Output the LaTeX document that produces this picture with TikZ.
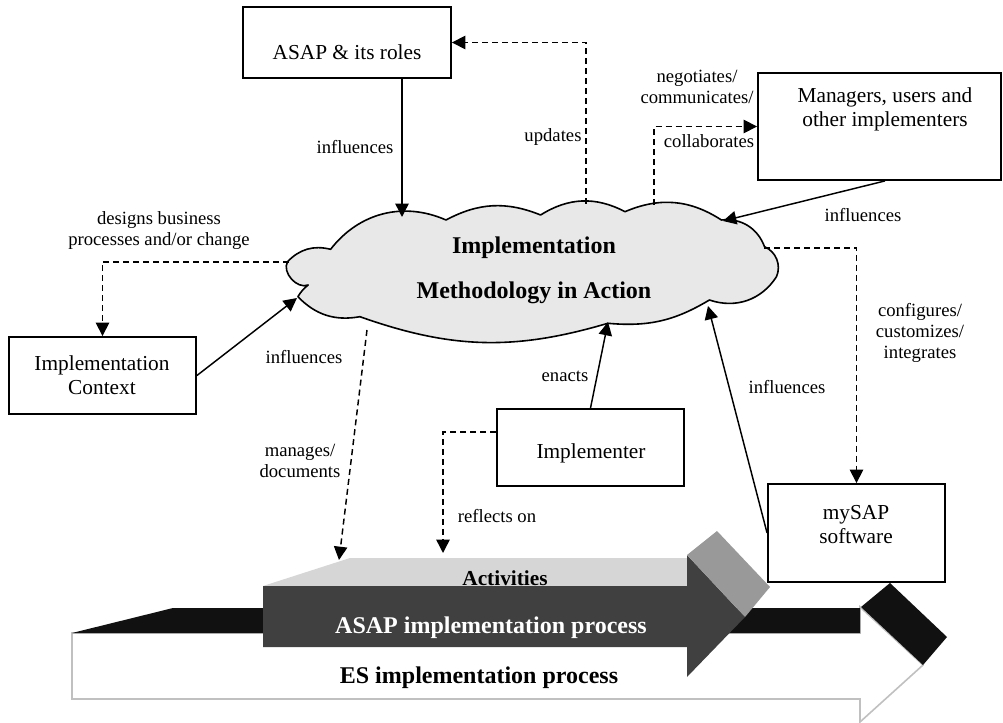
\documentclass[tikz,border=0pt]{standalone}
\usepackage{fontspec}
\setmainfont{Liberation Serif}
\usetikzlibrary{arrows.meta}
\definecolor{cloudfill}{HTML}{E8E8E8}
\definecolor{topface}{HTML}{D6D6D6}
\definecolor{sideface}{HTML}{999999}
\definecolor{darkarrow}{HTML}{404040}
\definecolor{blackface}{HTML}{111111}
\definecolor{esline}{HTML}{C0C0C0}
\begin{document}
\begin{tikzpicture}[x=0.75pt,y=-0.75pt,
  box/.style={draw=black,line width=1.4pt,fill=white,inner sep=0pt},
  boxtext/.style={font=\fontsize{16}{18}\selectfont,align=center,inner sep=0pt},
  lbl/.style={font=\fontsize{14}{15.75}\selectfont,align=center,inner sep=0pt},
  conn/.style={line width=1.1pt,-{Triangle[length=10pt,width=10pt]}},
  dconn/.style={conn,dash pattern=on 4.5pt off 3pt},
  boldbig/.style={font=\fontsize{18}{33.75}\selectfont\bfseries,align=center,inner sep=0pt},
  cloudline/.style={draw=black,line width=1.2pt,fill=cloudfill,line join=round}]
\useasboundingbox (0,0) rectangle (1003,723);

% ---------- bottom process arrows ----------
\draw[esline,line width=1.2pt,fill=white]
  (72,633) -- (860,633) -- (860,607) -- (923,665) -- (860,722) -- (860,699) -- (72,699) -- cycle;
\fill[blackface] (72,633) -- (173,608) -- (860,608) -- (860,633) -- cycle;
\fill[blackface] (861,607) -- (890,583) -- (947,637) -- (923,665) -- cycle;
\fill[topface] (263,586) -- (350,558) -- (687,558) -- (687,586) -- cycle;
\fill[darkarrow] (263,586) -- (687,586) -- (687,555) -- (745,617) -- (687,677) -- (687,647) -- (263,647) -- cycle;
\fill[sideface] (687,555) -- (717,531) -- (770,587) -- (745,617) -- cycle;
\node[font=\fontsize{16}{18}\selectfont\bfseries,inner sep=0pt] (activities) at (505,578) {Activities};
\node[boldbig,text=white] (asapproc) at (491,628) {ASAP implementation process};
\node[boldbig] (esproc) at (479,678) {ES implementation process};
\coordinate (aM) at (339,560);
\coordinate (aR) at (443,553);

% ---------- cloud ----------
\coordinate (D0) at (287.5,261.7);
\coordinate (D1) at (330.6,249.3);
\coordinate (D2) at (446,220);
\coordinate (D3) at (540.6,215);
\coordinate (D4) at (625,211.7);
\coordinate (D5) at (721.4,220);
\coordinate (D6) at (764.5,246.7);
\coordinate (D7) at (776.5,276.7);
\coordinate (D8) at (709.4,300);
\coordinate (D9) at (607.8,323.3);
\coordinate (D10) at (359.9,316.7);
\coordinate (D11) at (297.9,296.7);
\coordinate (D12) at (308.2,285);
\draw[cloudline] (D0) to[bend left=30] (D1) to[bend left=38] (D2) to[bend left=25] (D3)
  to[bend left=30] (D4) to[bend left=28] (D5) to[bend left=38] (D6) to[bend left=45] (D7)
  to[bend left=38] (D8) to[bend left=18] (D9) to[bend left=18] (D10) to[bend left=28] (D11)
  to[bend left=10] (D12) to[bend left=70] (D0) -- cycle;
\node[boldbig] (cloud) at (534,270.5) {Implementation\\Methodology in Action};

% ---------- boxes ----------
\node[box,minimum width=156pt,minimum height=53.25pt] (asap) at (347,42.5) {};
\node[boxtext] (asapt) at (347,52) {ASAP \& its roles};
\node[box,minimum width=182.25pt,minimum height=80.25pt] (mgr) at (879.5,126.5) {};
\node[boxtext] (mgrt) at (885,109.5) {Managers, users and\\other implementers};
\node[box,minimum width=140.25pt,minimum height=57.75pt] (ctx) at (102.5,375.5) {};
\node[boxtext] (ctxt) at (102,375) {Implementation\\Context};
\node[box,minimum width=140.25pt,minimum height=57.75pt] (impl) at (590.5,447.5) {};
\node[boxtext] (implt) at (591,453) {Implementer};
\node[box,minimum width=132.75pt,minimum height=73.5pt] (mysap) at (856.5,533) {};
\node[boxtext] (mysapt) at (856,524.5) {mySAP\\software};

% ---------- connector end points on the cloud ----------
\coordinate (cA) at (402,217);
\coordinate (cU) at (586,204);
\coordinate (cC) at (654,205);
\coordinate (cM) at (723,221);
\coordinate (cD) at (289,262);
\coordinate (cX) at (297,298);
\coordinate (cG) at (367,330);
\coordinate (cE) at (608,322);
\coordinate (cS) at (708,306);
\coordinate (cF) at (764,248);

% ---------- connectors ----------
\draw[conn] (asap.south -| cA) -- (cA);
\draw[dconn] (cU) |- (asap.east);
\draw[dconn] (cC) |- (mgr.west);
\draw[conn] ([xshift=4.1pt]mgr.south) -- (cM);
\draw[dconn] (cD) -| (ctx.north);
\draw[conn] (ctx.east) -- (cX);
\draw[dconn] (cG) -- (aM);
\draw[conn] (impl.north) -- (cE);
\draw[dconn] ([yshift=11.6pt]impl.west) -| (aR);
\draw[conn] (mysap.west) -- (cS);
\draw[dconn] (cF) -| (mysap.north);

% ---------- labels ----------
\node[lbl] (l1) at (355,147) {influences};
\node[lbl] (l2) at (553,137) {updates};
\node[lbl] (l3) at (697,86.5) {negotiates/\\communicates/};
\node[lbl] (l4) at (709,141) {collaborates};
\node[lbl] (l5) at (863,215) {influences};
\node[lbl] (l6) at (159,230.5) {designs business\\processes and/or change};
\node[lbl] (l7) at (304,357) {influences};
\node[lbl] (l8) at (300,460.5) {manages/\\documents};
\node[lbl] (l9) at (565,376) {enacts};
\node[lbl] (l10) at (787,387) {influences};
\node[lbl] (l11) at (920,332.5) {configures/\\customizes/\\integrates};
\node[lbl] (l12) at (497,516) {reflects on};
\end{tikzpicture}
\end{document}
